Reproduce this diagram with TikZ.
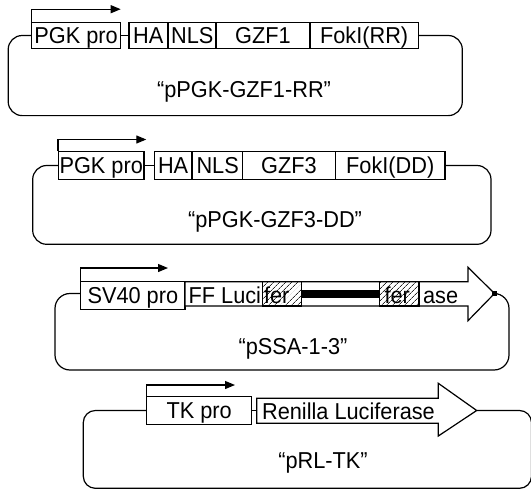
\documentclass[tikz,border=0pt]{standalone}
\usepackage{fontspec}
\setmainfont{Liberation Sans}
\newfontfamily\diagfont[FakeStretch=0.945]{Liberation Sans}
\usetikzlibrary{arrows.meta,patterns.meta}
\newcommand\diagfs{\diagfont\fontsize{23}{27}\selectfont}
\begin{document}
\begin{tikzpicture}[x=1pt,y=-1pt,line width=1.2pt,
  seg/.style={draw,inner sep=0pt,font=\diagfs,text height=16.5pt,text depth=0pt},
  lbl/.style={inner sep=0pt,font=\diagfs,text height=16.5pt,text depth=0pt},
  prom/.style={-{Triangle[length=10pt,width=8pt]}},
  hatch/.style={draw,pattern={Lines[angle=45,distance=4pt,line width=0.8pt]},pattern color=black!85},
]
\useasboundingbox (0,0) rectangle (531,490);

% ---------- panel 1 ----------
\node[seg,minimum width=88.8pt,minimum height=26.4pt] (pgk1) at (76.1,35.5) {PGK pro};
\node[seg,minimum width=38.6pt,minimum height=26.4pt] (ha1) at (148.3,35.5) {HA};
\node[seg,minimum width=47.4pt,minimum height=26.4pt] (nls1) at (192.3,35.5) {NLS};
\node[seg,minimum width=94pt,minimum height=26.4pt] (gzf1) at (263,35.5) {GZF1};
\node[seg,minimum width=108.3pt,minimum height=26.4pt] (fok1) at (364.15,35.5) {FokI(RR)};
\draw (pgk1.east) -- (ha1.west);
\draw[rounded corners=14pt] (pgk1.west) -- (8.2,35.5) -- (8.2,115.6) -- (462.3,115.6) -- (462.3,35.5) -- (fok1.east);
\coordinate (p1end) at (120.7,9.2);
\draw[prom] (pgk1.north west) |- (p1end);
\node[lbl] (lab1) at (244,89) {“pPGK-GZF1-RR”};

% ---------- panel 2 ----------
\node[seg,minimum width=85.3pt,minimum height=28.5pt] (pgk2) at (101.25,165.5) {PGK pro};
\node[seg,minimum width=37.3pt,minimum height=28.5pt] (ha2) at (173.15,165.5) {HA};
\node[seg,minimum width=49.7pt,minimum height=28.5pt] (nls2) at (217.65,165.5) {NLS};
\node[seg,minimum width=93pt,minimum height=28.5pt] (gzf3) at (289,165.5) {GZF3};
\node[seg,minimum width=109.5pt,minimum height=28.5pt] (fok2) at (390.25,165.5) {FokI(DD)};
\draw (pgk2.east) -- (ha2.west);
\draw[rounded corners=14pt] (pgk2.west) -- (32.7,165.5) -- (32.7,244.3) -- (491,244.3) -- (491,165.5) -- (fok2.east);
\coordinate (p2end) at (146.3,139.5);
\draw[prom] (pgk2.north west) |- (p2end);
\node[lbl] (lab2) at (275,219) {“pPGK-GZF3-DD”};

% ---------- panel 3 ----------
\node[seg,minimum width=104.3pt,minimum height=27.6pt] (sv40) at (132.85,295.5) {SV40 pro};
\coordinate (tip3) at (494.5,293.5);
\draw[fill=white] (185,281.7) -- (468,281.7) -- (468,267.3) -- (tip3) -- (468,320.7) -- (468,306) -- (185,306) -- cycle;
\draw[hatch] (262.7,281.7) rectangle (301.7,306);
\draw[hatch] (379.3,281.7) rectangle (419,306);
\fill (301.7,289.8) rectangle (379.3,298);
\node[lbl,anchor=west] (ffl) at (188,295) {FF Luci};
\node[lbl,anchor=west] (fer1) at (263.5,295) {fer};
\node[lbl,anchor=west] (fer2) at (384,295) {fer};
\node[lbl,anchor=west] (ase) at (422.5,295) {ase};
\node[fill,inner sep=0pt,minimum size=4.5pt] (sq) at (tip3) {};
\draw[rounded corners=15pt] (sv40.west |- tip3) -- (55,293.5) -- (55,370) -- (509,370) -- (509,293.5) -- (sq.center);
\coordinate (p3end) at (168,268);
\draw[prom] (sv40.north west) |- (p3end);
\node[lbl] (lab3) at (293,346.7) {“pSSA-1-3”};

% ---------- panel 4 ----------
\node[seg,minimum width=105pt,minimum height=28pt] (tk) at (199.2,410.5) {TK pro};
\coordinate (tip4) at (476.7,410.5);
\draw[fill=white] (256.7,398.3) -- (438.3,398.3) -- (438.3,383.3) -- (tip4) -- (438.3,436) -- (438.3,423.3) -- (256.7,423.3) -- cycle;
\coordinate (rlw) at (256.7,410.5);
\node[lbl,anchor=west] (ren) at (261.5,411.5) {Renilla Luciferase};
\draw (tk.east) -- (rlw);
\draw[rounded corners=12pt] (tk.west) -- (83.3,410.5) -- (83.3,488.3) -- (531.5,488.3) -- (531.5,410.5) -- (tip4);
\coordinate (p4end) at (235,385);
\draw[prom] (tk.north west) |- (p4end);
\node[lbl] (lab4) at (323,460) {“pRL-TK”};
\end{tikzpicture}
\end{document}
